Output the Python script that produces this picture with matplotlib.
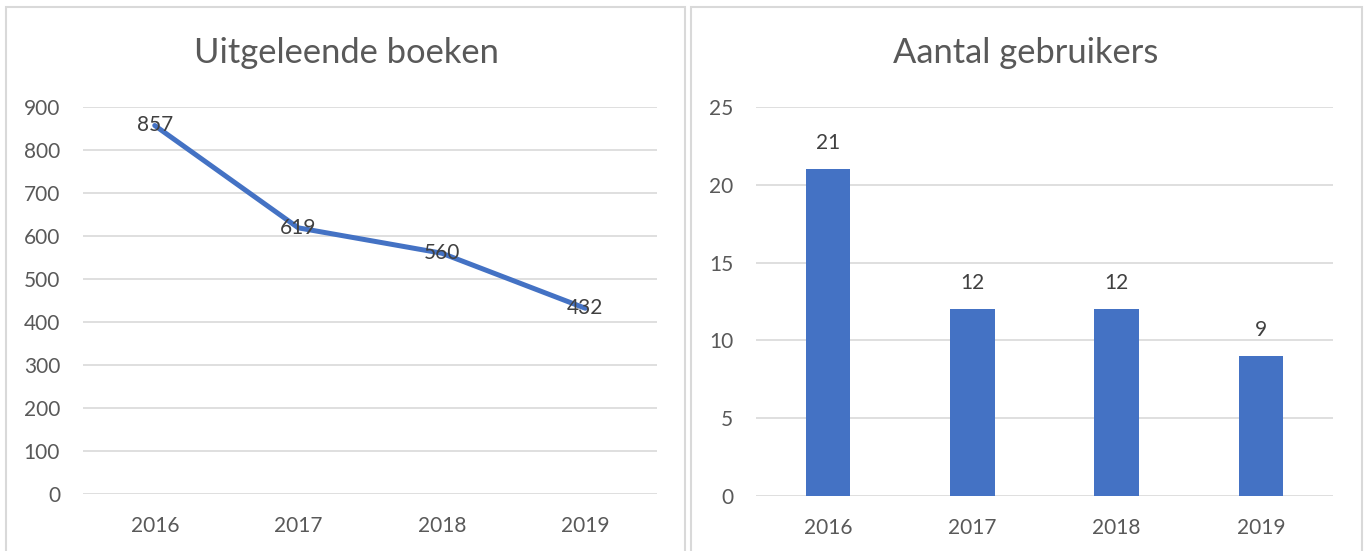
import matplotlib
matplotlib.use("Agg")
import matplotlib.pyplot as plt
from matplotlib.patches import Rectangle

years = ["2016", "2017", "2018", "2019"]
boeken = [857, 619, 560, 432]
gebruikers = [21, 12, 12, 9]

title_left = "Uitgeleende boeken"
title_right = "Aantal gebruikers"

BLUE = "#4472C4"
GRID = "#D9D9D9"
TICK = "#595959"
LABEL = "#404040"

plt.rcParams['font.family'] = ['Lato', 'DejaVu Sans']

W, H = 1368, 551
fig = plt.figure(figsize=(W / 100, H / 100), dpi=100)

def fx(px):
    return px / W

def fy(py):
    return 1 - py / H

# panel borders
for x0, x1 in [(6, 685), (691, 1362)]:
    fig.patches.append(Rectangle((fx(x0), fy(560)), fx(x1 - x0), (560 - 7) / H,
                                 transform=fig.transFigure, fill=False,
                                 edgecolor=GRID, linewidth=1.5, zorder=0))

FS = 15

def style(ax, ymax, step):
    ax.set_ylim(0, ymax)
    ax.set_yticks(range(0, ymax + 1, step))
    ax.set_xlim(-0.5, len(years) - 0.5)
    ax.set_xticks(range(len(years)))
    ax.set_xticklabels(years)
    for s in ax.spines.values():
        s.set_visible(False)
    ax.grid(axis='y', color=GRID, linewidth=1.2)
    ax.set_axisbelow(True)
    ax.tick_params(axis='both', length=0, labelsize=FS, labelcolor=TICK)
    ax.tick_params(axis='y', pad=16.5)
    ax.tick_params(axis='x', pad=16)
    ax.patch.set_alpha(0)

# left: line chart
ax1 = fig.add_axes([fx(83), fy(494), fx(657 - 83), (494 - 107) / H])
style(ax1, 900, 100)
x = list(range(len(years)))
ax1.plot(x, boeken, color=BLUE, linewidth=3.6, solid_capstyle='round', zorder=3)
for xi, v in zip(x, boeken):
    ax1.text(xi, v, str(v), ha='center', va='center', fontsize=FS, color=LABEL, zorder=4)
fig.text(fx(346), fy(53), title_left, ha='center', va='center', fontsize=24.8,
         color=TICK)

# right: bar chart
ax2 = fig.add_axes([fx(756), fy(496), fx(1333 - 756), (496 - 107) / H])
style(ax2, 25, 5)
ax2.bar(x, gebruikers, width=0.31, color=BLUE, zorder=3)
for xi, v in zip(x, gebruikers):
    ax2.annotate(str(v), (xi, v), xytext=(0, 26), textcoords='offset pixels',
                 ha='center', va='center', fontsize=FS, color=LABEL)
fig.text(fx(1026), fy(53), title_right, ha='center', va='center', fontsize=24.8,
         color=TICK)

fig.savefig("out.png", dpi=100)
